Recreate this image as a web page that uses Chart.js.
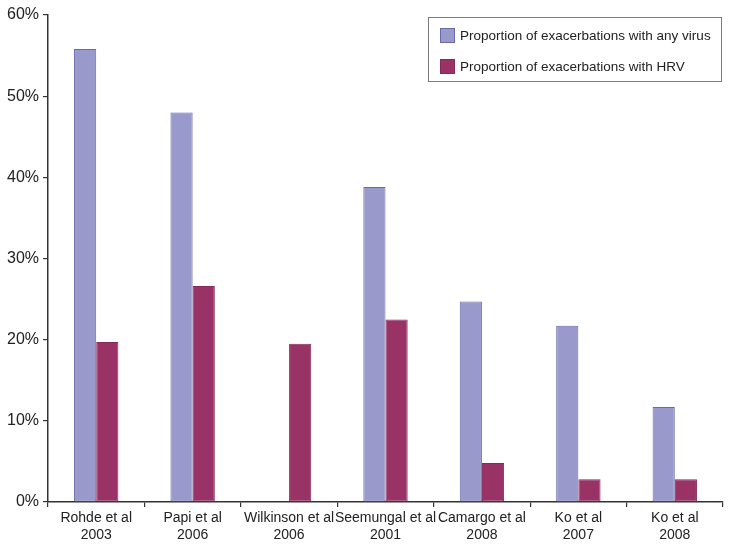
<!DOCTYPE html>
<html>
<head>
<meta charset="utf-8">
<script src="https://cdn.jsdelivr.net/npm/chart.js@4/dist/chart.umd.min.js"></script>
<style>
  html, body { margin: 0; padding: 0; background: #fff; }
  #wrap { width: 732px; height: 550px; }
</style>
</head>
<body>
<div id="wrap"><canvas id="chart" width="732" height="550"></canvas></div>
<script>
// study labels (two lines each)
const studies = [
  ['Rohde et al', '2003'],
  ['Papi et al', '2006'],
  ['Wilkinson et al', '2006'],
  ['Seemungal et al', '2001'],
  ['Camargo et al', '2008'],
  ['Ko et al', '2007'],
  ['Ko et al', '2008']
];
// percentages
const anyVirus = [55.8, 48.0, null, 38.8, 24.7, 21.7, 11.7];
const hrv = [19.7, 26.6, 19.5, 22.5, 4.8, 2.8, 2.8];
const seriesNames = [
  'Proportion of exacerbations with any virus',
  'Proportion of exacerbations with HRV'
];
const yTicks = [0, 10, 20, 30, 40, 50, 60];

const FONT = '"Liberation Sans", Arial, sans-serif';

// legend box drawn inside the plot, top right
const boxLegend = {
  id: 'boxLegend',
  afterDraw(chart) {
    const ctx = chart.ctx;
    ctx.save();
    ctx.strokeStyle = '#7a7a7a';
    ctx.lineWidth = 1;
    ctx.fillStyle = '#fff';
    ctx.fillRect(428.5, 17.5, 293, 64);
    ctx.strokeRect(428.5, 17.5, 293, 64);
    ctx.font = '13.5px ' + FONT;
    ctx.textBaseline = 'middle';
    chart.data.datasets.forEach((ds, i) => {
      const y = 28 + i * 31;
      ctx.fillStyle = ds.backgroundColor;
      ctx.fillRect(440, y, 15, 15);
      ctx.strokeStyle = ds.borderColor;
      ctx.strokeRect(440.5, y + 0.5, 14, 14);
      ctx.fillStyle = '#222';
      ctx.fillText(ds.label, 460, y + 8);
    });
    ctx.restore();
  }
};

new Chart(document.getElementById('chart'), {
  type: 'bar',
  data: {
    labels: studies,
    datasets: [
      {
        label: seriesNames[0],
        data: anyVirus,
        backgroundColor: '#9999cc',
        borderColor: '#6a6aa8',
        borderWidth: 1,
        borderSkipped: false
      },
      {
        label: seriesNames[1],
        data: hrv,
        backgroundColor: '#993366',
        borderColor: '#862a59',
        borderWidth: 1,
        borderSkipped: false
      }
    ]
  },
  options: {
    responsive: false,
    animation: false,
    layout: { padding: { top: 15, right: 9, left: 0, bottom: 0 } },
    categoryPercentage: 0.46,
    barPercentage: 1.0,
    plugins: {
      legend: { display: false },
      tooltip: { enabled: false }
    },
    scales: {
      x: {
        afterFit: function(scale) { scale.height = 48; },
        grid: {
          offset: true,
          drawOnChartArea: false,
          drawTicks: true,
          tickLength: 5,
          color: '#333',
          lineWidth: 1.2
        },
        border: { display: true, color: '#333', width: 1.5 },
        ticks: {
          color: '#222',
          font: { family: FONT, size: 14 },
          padding: 3,
          maxRotation: 0,
          autoSkip: false
        }
      },
      y: {
        min: 0,
        max: 60,
        afterFit: function(scale) { scale.width = 48; },
        afterBuildTicks: function(scale) {
          scale.ticks = yTicks.map(v => ({ value: v }));
        },
        grid: {
          drawOnChartArea: false,
          drawTicks: true,
          tickLength: 5,
          color: '#333',
          lineWidth: 1.2
        },
        border: { display: true, color: '#333', width: 1.5 },
        ticks: {
          color: '#222',
          font: { family: FONT, size: 16 },
          padding: 4,
          callback: v => v + '%'
        }
      }
    }
  },
  plugins: [boxLegend]
});
</script>
</body>
</html>
